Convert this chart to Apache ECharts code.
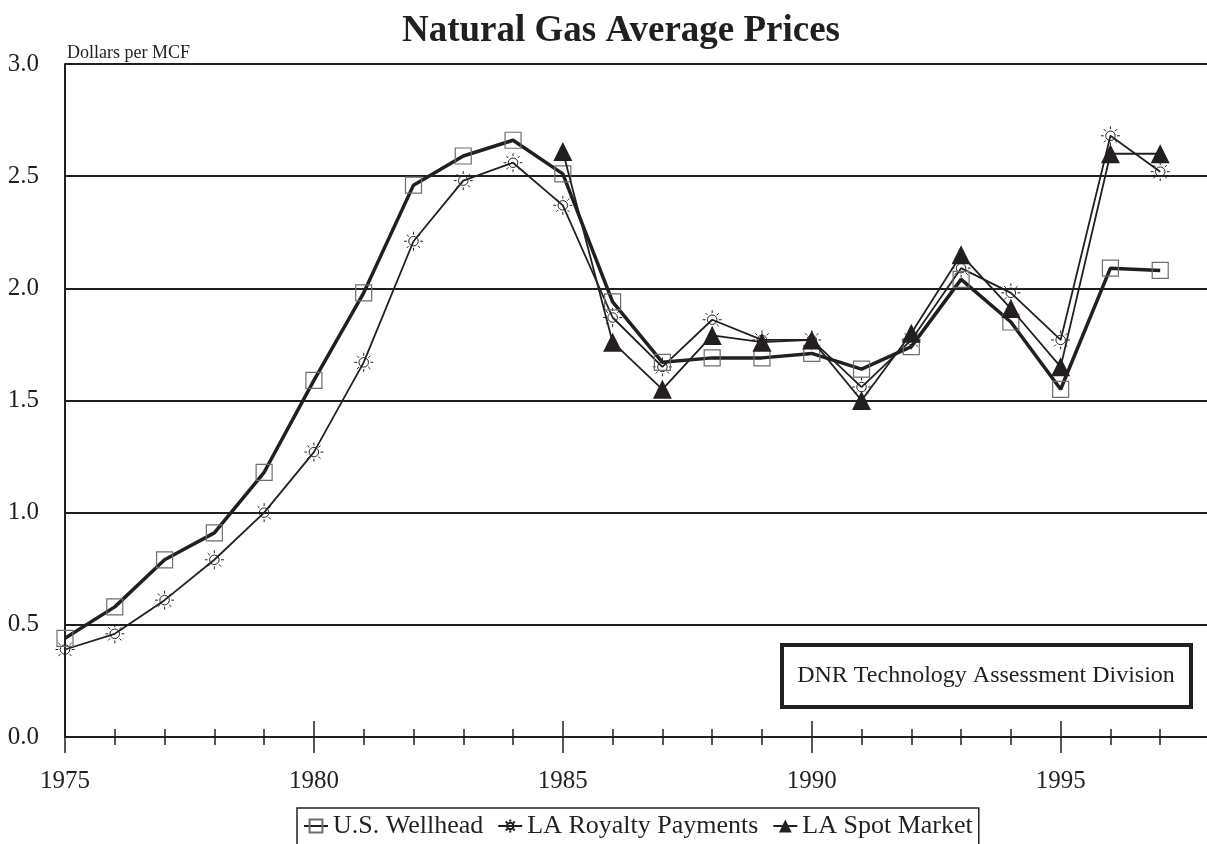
<!DOCTYPE html>
<html>
<head>
<meta charset="utf-8">
<title>Natural Gas Average Prices</title>
<script src="https://cdn.jsdelivr.net/npm/echarts@6/dist/echarts.min.js"></script>
<style>
  html, body { margin: 0; padding: 0; background: #fff; }
  #chart { width: 1207px; height: 844px; }
</style>
</head>
<body>
<div id="chart"></div>
<script>
const years = [1975, 1976, 1977, 1978, 1979, 1980, 1981, 1982, 1983, 1984, 1985, 1986,
  1987, 1988, 1989, 1990, 1991, 1992, 1993, 1994, 1995, 1996, 1997]
const wellhead = [0.44, 0.58, 0.79, 0.91, 1.18, 1.59, 1.98, 2.46, 2.59, 2.66, 2.51, 1.94,
  1.67, 1.69, 1.69, 1.71, 1.64, 1.74, 2.04, 1.85, 1.55, 2.09, 2.08]
const royalty = [0.39, 0.46, 0.61, 0.79, 1.00, 1.27, 1.67, 2.21, 2.48, 2.56, 2.37, 1.87,
  1.65, 1.86, 1.77, 1.77, 1.56, 1.77, 2.09, 1.98, 1.77, 2.68, 2.52]
const spot = [null, null, null, null, null, null, null, null, null, null, 2.61, 1.76,
  1.55, 1.79, 1.76, 1.77, 1.50, 1.80, 2.15, 1.91, 1.65, 2.60, 2.60]
const yTicks = [0, 0.5, 1.0, 1.5, 2.0, 2.5, 3.0]

const FONT = 'Liberation Serif'
const INK = '#231f20'
// little sun marker used for the royalty series
const SUN = 'path://M15,10A5,5 0 1,1 5,10A5,5 0 1,1 15,10Z' +
  'M10,0L10,3M10,17L10,20M0,10L3,10M17,10L20,10' +
  'M3,3L5.2,5.2M17,3L14.8,5.2M3,17L5.2,14.8M17,17L14.8,14.8'

const pairs = arr => years.map((y, i) => [y, arr[i]]).filter(p => p[1] !== null)

// helper for the stacked tick-only x axes
function tickAxis (interval, inside, len, extra) {
  return Object.assign({
    type: 'value',
    position: 'bottom',
    min: 1975,
    max: 1998,
    interval: interval,
    axisLine: { show: false },
    axisTick: { show: true, inside: inside, length: len, lineStyle: { color: INK, width: 1.5 } },
    axisLabel: { show: false },
    splitLine: { show: false }
  }, extra || {})
}

const chart = echarts.init(document.getElementById('chart'))
chart.setOption({
  animation: false,
  backgroundColor: '#fff',
  textStyle: { fontFamily: FONT },
  grid: { left: 65, top: 64, width: 1145, height: 673, outerBoundsMode: 'none', containLabel: false },
  graphic: [
    {
      type: 'text',
      x: 621,
      y: 31,
      style: {
        text: 'Natural Gas Average Prices',
        font: 'bold 37px "Liberation Serif"',
        fill: INK,
        align: 'center',
        verticalAlign: 'middle'
      }
    },
    {
      type: 'text',
      left: 67,
      top: 44,
      style: { text: 'Dollars per MCF', font: '18px "Liberation Serif"', fill: INK }
    },
    {
      type: 'group',
      left: 780,
      top: 643,
      children: [
        {
          type: 'rect',
          shape: { x: 2, y: 2, width: 409, height: 62 },
          style: { fill: '#fff', stroke: INK, lineWidth: 4 }
        },
        {
          type: 'text',
          x: 206,
          y: 33,
          style: {
            text: 'DNR Technology Assessment Division',
            font: '24px "Liberation Serif"',
            fill: INK,
            align: 'center',
            verticalAlign: 'middle'
          }
        }
      ]
    }
  ],
  legend: {
    left: 297,
    top: 808,
    padding: [5, 6, 12, 6],
    itemGap: 14,
    itemWidth: 24,
    itemHeight: 16,
    borderColor: INK,
    borderWidth: 1.5,
    textStyle: { fontFamily: FONT, fontSize: 26, color: INK },
    data: ['U.S. Wellhead', 'LA Royalty Payments', 'LA Spot Market']
  },
  xAxis: [
    tickAxis(1, false, 8, {
      axisLine: { show: true, lineStyle: { color: INK, width: 2 } },
      axisLabel: {
        show: true,
        margin: 32,
        fontFamily: FONT,
        fontSize: 25,
        color: INK,
        formatter: v => (v % 5 === 0 ? String(v) : '')
      }
    }),
    tickAxis(1, true, 8),
    tickAxis(5, false, 16),
    tickAxis(5, true, 16)
  ],
  yAxis: {
    type: 'value',
    min: yTicks[0],
    max: yTicks[yTicks.length - 1],
    interval: 0.5,
    axisLine: { show: true, lineStyle: { color: INK, width: 2 } },
    axisTick: { show: false },
    axisLabel: {
      margin: 26,
      fontFamily: FONT,
      fontSize: 25,
      color: INK,
      formatter: v => v.toFixed(1)
    },
    splitLine: { show: true, lineStyle: { color: INK, width: 2 } }
  },
  series: [
    {
      name: 'U.S. Wellhead',
      type: 'line',
      data: pairs(wellhead),
      symbol: 'rect',
      symbolSize: 16,
      lineStyle: { color: INK, width: 3.5 },
      itemStyle: { color: 'rgba(255,255,255,0)', borderColor: '#6d6e71', borderWidth: 1.2 },
      z: 4
    },
    {
      name: 'LA Royalty Payments',
      type: 'line',
      data: pairs(royalty),
      symbol: SUN,
      symbolSize: 19,
      lineStyle: { color: INK, width: 1.8 },
      itemStyle: { color: 'rgba(255,255,255,0)', borderColor: INK, borderWidth: 1 },
      z: 3
    },
    {
      name: 'LA Spot Market',
      type: 'line',
      data: pairs(spot),
      symbol: 'triangle',
      symbolSize: 19,
      lineStyle: { color: INK, width: 1.8 },
      itemStyle: { color: INK },
      z: 5
    }
  ]
})
</script>
</body>
</html>
